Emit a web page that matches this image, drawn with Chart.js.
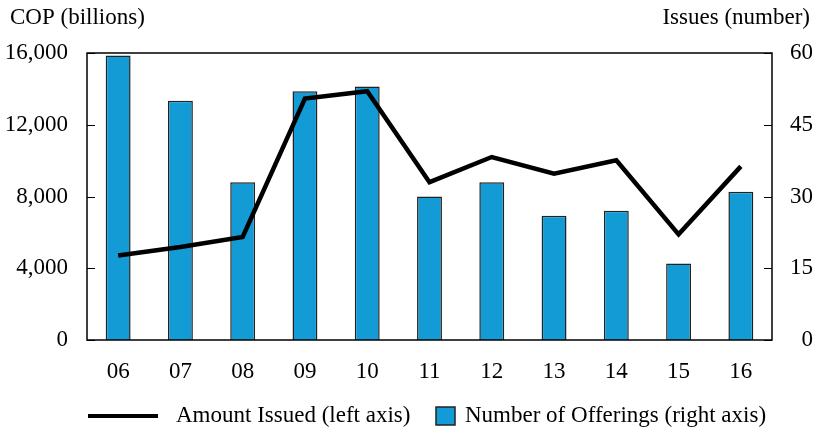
<!DOCTYPE html>
<html>
<head>
<meta charset="utf-8">
<script src="https://cdn.jsdelivr.net/npm/chart.js@4.4.1/dist/chart.umd.min.js"></script>
<style>
    body { margin: 0; background: #fff; }
    #wrap { width: 813px; height: 430px; }
</style>
</head>
<body>
<div id="wrap"><canvas id="chart" width="813" height="430"></canvas></div>
<script>
// Data.
const years = ["06", "07", "08", "09", "10", "11", "12", "13", "14", "15", "16"];
const amountIssued = [4715, 5180, 5740, 13460, 13870, 8800, 10200, 9270, 10020, 5890, 9680];
const offerings = [59.5, 50, 33, 52, 53, 30, 33, 26, 27, 16, 31];
const leftTicks = [0, 4000, 8000, 12000, 16000];
const rightTicks = [0, 15, 30, 45, 60];

const FONT = "'Liberation Serif', 'Times New Roman', serif";
const FONT_SIZE = 23;
const BAR_COLOR = "#139BD5";
const BAR_EDGE = "#222";

// Frame, inward tick marks, corner titles and legend.
const decorations = {
    id: 'decorations',
    afterDraw(chart) {
        const ctx = chart.ctx;
        const area = chart.chartArea;
        const yL = chart.scales.yLeft;
        const yR = chart.scales.yRight;

        ctx.save();
        ctx.strokeStyle = "#000";
        ctx.lineWidth = 1.5;
        ctx.strokeRect(area.left, area.top, area.right - area.left, area.bottom - area.top);

        ctx.lineWidth = 1;
        ctx.beginPath();
        for (let v of leftTicks) {
            let y = Math.round(yL.getPixelForValue(v)) + 0.5;
            ctx.moveTo(area.left, y);
            ctx.lineTo(area.left + 8, y);
        }
        for (let v of rightTicks) {
            let y = Math.round(yR.getPixelForValue(v)) + 0.5;
            ctx.moveTo(area.right, y);
            ctx.lineTo(area.right - 8, y);
        }
        ctx.stroke();

        ctx.fillStyle = "#000";
        ctx.font = FONT_SIZE + "px " + FONT;
        ctx.textBaseline = "middle";
        ctx.textAlign = "left";
        ctx.fillText("COP (billions)", 10, 18);
        ctx.textAlign = "right";
        ctx.fillText("Issues (number)", 810, 18);

        // legend
        let ly = 416;
        ctx.textAlign = "left";
        ctx.lineWidth = 4;
        ctx.beginPath();
        ctx.moveTo(88, ly);
        ctx.lineTo(158, ly);
        ctx.stroke();
        ctx.fillText(chart.data.datasets[0].label, 176, ly);

        ctx.fillStyle = BAR_COLOR;
        ctx.fillRect(436, ly - 9, 19, 18);
        ctx.lineWidth = 1.5;
        ctx.strokeStyle = BAR_EDGE;
        ctx.strokeRect(436, ly - 9, 19, 18);
        ctx.fillStyle = "#000";
        ctx.fillText(chart.data.datasets[1].label, 465, ly);
        ctx.restore();
    }
};

new Chart(document.getElementById("chart").getContext("2d"), {
    data: {
        labels: years,
        datasets: [
            {
                type: 'line',
                label: "Amount Issued (left axis)",
                data: amountIssued,
                yAxisID: 'yLeft',
                borderColor: "#000",
                borderWidth: 4.5,
                pointRadius: 0,
                tension: 0,
                fill: false,
                order: 0
            },
            {
                type: 'bar',
                label: "Number of Offerings (right axis)",
                data: offerings,
                yAxisID: 'yRight',
                backgroundColor: BAR_COLOR,
                borderColor: BAR_EDGE,
                borderWidth: 1.5,
                barPercentage: 0.4,
                categoryPercentage: 1,
                order: 1
            }
        ]
    },
    options: {
        responsive: false,
        animation: false,
        layout: {
            padding: { top: 53, bottom: 0, left: 0, right: 0 }
        },
        plugins: {
            legend: { display: false },
            tooltip: { enabled: false }
        },
        scales: {
            x: {
                grid: { display: false },
                border: { display: false },
                afterFit: (scale) => { scale.height = 90; },
                ticks: {
                    color: "#000",
                    padding: 10,
                    font: { family: FONT, size: FONT_SIZE }
                }
            },
            yLeft: {
                position: 'left',
                min: 0,
                max: 16000,
                afterBuildTicks: (scale) => { scale.ticks = leftTicks.map(v => ({ value: v })); },
                afterFit: (scale) => { scale.width = 87; },
                grid: { display: false },
                border: { display: false },
                ticks: {
                    color: "#000",
                    padding: 11,
                    font: { family: FONT, size: FONT_SIZE },
                    callback: (v) => v.toLocaleString('en-US')
                }
            },
            yRight: {
                position: 'right',
                min: 0,
                max: 60,
                afterBuildTicks: (scale) => { scale.ticks = rightTicks.map(v => ({ value: v })); },
                afterFit: (scale) => { scale.width = 41; },
                grid: { display: false },
                border: { display: false },
                ticks: {
                    color: "#000",
                    padding: 8,
                    crossAlign: 'far',
                    font: { family: FONT, size: FONT_SIZE }
                }
            }
        }
    },
    plugins: [decorations]
});
</script>
</body>
</html>
